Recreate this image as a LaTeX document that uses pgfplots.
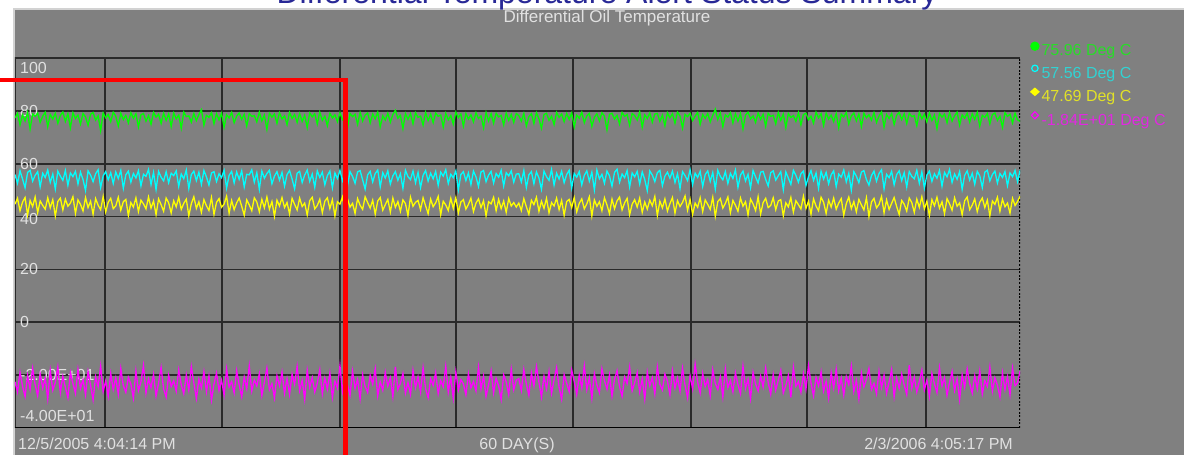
\documentclass[border=0pt]{standalone}
\usepackage{pgfplots}
\pgfplotsset{compat=1.18}
\usepackage{pgfplotstable}
\usepackage{fontspec}
\setmainfont{Liberation Sans}
\definecolor{panel}{RGB}{128,128,128}
\definecolor{gridc}{RGB}{42,42,42}
\definecolor{lbl}{RGB}{225,225,225}
\definecolor{sgreen}{RGB}{0,255,0}
\definecolor{scyan}{RGB}{0,255,255}
\definecolor{syellow}{RGB}{255,255,0}
\definecolor{smagenta}{RGB}{255,0,255}
\definecolor{tgreen}{RGB}{40,220,40}
\definecolor{tcyan}{RGB}{50,210,210}
\definecolor{tyellow}{RGB}{225,225,40}
\definecolor{tmagenta}{RGB}{225,40,225}
\definecolor{titleblue}{RGB}{40,40,150}

\pgfplotstableread[row sep=\\]{v\\
77.3\\79.1\\74.7\\78.5\\76.2\\79.4\\73.1\\78.8\\77.9\\79.2\\75.6\\78.0\\79.5\\74.0\\78.6\\76.9\\79.1\\75.3\\78.2\\79.6\\
76.0\\78.9\\73.6\\79.3\\77.1\\78.4\\75.0\\79.0\\77.7\\74.5\\78.7\\79.4\\76.5\\78.1\\72.5\\79.2\\77.4\\78.6\\75.9\\79.5\\
78.0\\74.2\\79.1\\76.7\\78.3\\75.4\\79.3\\77.2\\78.9\\73.9\\78.5\\79.0\\76.1\\78.2\\74.9\\79.4\\77.6\\78.7\\75.2\\79.1\\
76.4\\78.8\\74.1\\79.2\\77.0\\78.4\\73.4\\79.5\\77.8\\78.1\\75.7\\79.0\\76.3\\78.6\\80.4\\74.6\\78.3\\77.5\\79.3\\75.1\\
78.9\\76.6\\79.1\\73.8\\78.5\\77.3\\79.4\\75.5\\78.0\\79.2\\76.8\\78.7\\74.3\\79.0\\77.9\\78.2\\75.8\\79.5\\76.2\\78.4\\
73.0\\79.1\\77.6\\78.8\\75.3\\79.3\\76.9\\78.1\\74.8\\79.4\\77.1\\78.6\\75.6\\79.0\\76.0\\78.3\\73.7\\79.2\\77.7\\78.9\\
75.0\\79.5\\76.4\\78.0\\74.4\\79.1\\77.3\\78.5\\75.9\\79.3\\76.7\\78.2\\73.5\\79.0\\77.8\\78.7\\74.9\\79.4\\76.1\\78.4\\
79.2\\75.4\\78.8\\77.0\\79.5\\74.0\\78.1\\76.5\\79.1\\75.7\\78.6\\80.2\\77.2\\78.3\\73.3\\79.0\\76.8\\78.9\\75.1\\79.3\\
77.5\\78.0\\74.6\\79.4\\76.3\\78.7\\75.5\\79.2\\77.9\\78.4\\73.9\\79.1\\76.6\\78.2\\75.0\\79.5\\77.4\\78.8\\74.2\\79.0\\
76.9\\78.5\\75.8\\79.3\\77.1\\78.1\\73.6\\79.4\\76.2\\78.9\\75.3\\79.1\\77.7\\78.3\\74.7\\79.2\\76.4\\78.6\\75.6\\79.0\\
78.2\\76.1\\79.0\\74.3\\77.8\\78.9\\75.2\\79.3\\77.0\\73.4\\78.6\\79.1\\76.4\\78.0\\74.8\\79.4\\77.5\\78.8\\75.9\\79.0\\
76.8\\79.2\\73.9\\78.4\\77.2\\79.5\\75.5\\78.1\\79.0\\74.1\\77.6\\78.9\\76.2\\79.3\\78.0\\72.8\\78.7\\79.1\\76.9\\78.3\\
75.0\\79.4\\77.9\\78.6\\74.6\\79.0\\78.2\\76.5\\79.6\\73.8\\78.5\\77.1\\79.2\\75.7\\78.8\\79.0\\76.0\\78.4\\74.4\\79.3\\
77.4\\78.9\\75.3\\79.5\\78.1\\73.5\\78.7\\77.8\\79.1\\76.3\\78.0\\79.4\\74.9\\78.6\\77.2\\79.0\\75.8\\78.3\\80.6\\76.7\\
79.2\\74.0\\78.5\\77.6\\79.3\\75.4\\78.9\\76.1\\79.0\\73.2\\78.4\\79.5\\77.0\\78.1\\75.6\\79.2\\76.8\\78.7\\74.2\\79.1\\
77.9\\78.3\\75.1\\79.4\\76.4\\78.8\\73.7\\79.0\\77.5\\78.2\\76.0\\79.3\\74.7\\78.6\\79.1\\76.6\\78.0\\75.3\\79.5\\77.3\\
78.9\\74.5\\79.2\\76.9\\78.4\\75.9\\79.0\\73.6\\78.7\\77.7\\79.4\\75.0\\78.1\\79.2\\76.2\\78.8\\74.1\\79.1\\77.4\\78.5\\
76.5\\79.3\\75.6\\78.0\\79.6\\73.9\\78.6\\77.1\\79.0\\74.8\\78.3\\79.4\\76.7\\78.9\\75.2\\79.1\\77.8\\78.2\\74.4\\79.5\\
77.0\\78.7\\75.8\\79.2\\76.3\\78.4\\73.3\\79.0\\77.6\\78.8\\75.5\\79.3\\76.1\\78.1\\79.5\\74.6\\78.5\\77.2\\79.1\\75.7\\
78.9\\76.8\\79.4\\74.2\\78.3\\77.5\\79.0\\75.1\\78.6\\79.2\\76.4\\78.0\\73.8\\79.3\\77.9\\78.7\\75.4\\79.1\\76.6\\75.96\\
}\greendata

\pgfplotstableread[row sep=\\]{v\\
55.9\\52.6\\57.3\\54.2\\50.9\\56.7\\57.5\\53.4\\55.6\\57.0\\51.3\\56.4\\54.8\\57.6\\52.9\\56.1\\50.4\\57.2\\55.3\\53.7\\
57.4\\51.8\\56.5\\55.1\\57.1\\52.3\\56.8\\54.0\\49.9\\57.3\\55.7\\53.2\\56.2\\57.7\\51.0\\55.4\\57.0\\53.9\\56.6\\52.5\\
56.9\\54.4\\57.5\\50.7\\55.8\\57.2\\53.0\\56.3\\54.6\\57.4\\51.6\\56.0\\55.2\\57.8\\52.1\\56.7\\50.2\\57.1\\54.9\\53.5\\
57.0\\52.8\\56.4\\55.5\\57.3\\51.4\\56.1\\54.3\\57.6\\50.6\\55.9\\57.2\\53.6\\56.8\\52.2\\57.4\\55.0\\51.9\\56.5\\57.0\\
53.3\\56.2\\54.7\\57.5\\50.8\\55.6\\57.1\\52.7\\56.9\\54.1\\57.3\\51.2\\56.0\\55.8\\57.7\\53.0\\56.6\\50.3\\57.2\\54.5\\
56.3\\57.5\\52.4\\55.3\\57.0\\53.8\\56.7\\51.5\\55.9\\57.4\\54.2\\50.5\\56.4\\57.1\\52.9\\55.7\\57.6\\53.3\\56.1\\51.1\\
57.3\\54.8\\56.8\\52.0\\55.5\\57.2\\50.9\\56.5\\54.4\\57.5\\53.5\\56.0\\51.7\\57.0\\55.2\\52.6\\56.9\\57.4\\53.9\\50.4\\
55.8\\57.1\\53.1\\56.3\\57.6\\51.3\\56.6\\54.6\\57.3\\52.3\\55.4\\57.0\\53.7\\56.2\\50.7\\57.5\\55.1\\54.0\\57.2\\52.8\\
56.7\\51.0\\55.6\\57.4\\53.4\\56.4\\54.3\\57.1\\51.8\\56.8\\55.3\\57.7\\52.5\\56.0\\54.7\\57.3\\50.1\\55.9\\57.0\\53.6\\
56.5\\52.1\\57.2\\55.0\\51.4\\56.9\\57.4\\53.2\\55.7\\57.1\\52.7\\56.3\\54.9\\57.5\\51.6\\56.6\\55.4\\57.3\\53.0\\56.1\\
56.2\\53.1\\57.4\\51.0\\55.8\\57.0\\52.4\\56.9\\54.6\\50.3\\57.2\\55.1\\53.7\\57.8\\51.9\\56.4\\54.2\\57.1\\52.8\\55.9\\
57.5\\50.8\\56.3\\54.9\\57.0\\52.0\\55.6\\57.3\\53.4\\56.8\\50.1\\57.6\\54.3\\56.0\\52.6\\57.2\\55.4\\51.5\\56.7\\57.9\\
53.0\\56.1\\54.7\\57.4\\51.2\\56.5\\55.0\\57.1\\52.3\\56.9\\54.0\\49.8\\57.3\\55.7\\53.2\\56.6\\57.5\\51.7\\55.3\\56.8\\
54.5\\57.2\\52.9\\56.2\\50.6\\57.0\\55.5\\53.6\\57.7\\52.1\\56.4\\54.8\\57.1\\51.4\\55.9\\57.3\\53.3\\56.7\\50.4\\57.5\\
55.2\\53.9\\57.0\\52.5\\56.3\\54.4\\57.6\\51.1\\55.7\\57.2\\53.5\\56.0\\50.9\\57.4\\55.0\\52.7\\56.8\\57.1\\54.1\\51.6\\
56.6\\57.3\\53.8\\55.4\\57.0\\50.2\\56.9\\54.6\\52.2\\57.5\\55.6\\53.0\\56.2\\57.2\\51.8\\55.1\\57.4\\53.7\\56.5\\50.7\\
57.1\\54.2\\56.7\\52.4\\55.8\\57.3\\51.3\\56.1\\54.9\\57.6\\53.1\\56.4\\50.0\\57.0\\55.3\\52.8\\56.8\\57.4\\54.0\\51.9\\
55.5\\57.2\\53.4\\56.3\\57.7\\50.5\\56.0\\54.7\\57.1\\52.0\\55.9\\57.3\\53.6\\56.6\\51.2\\57.0\\55.2\\54.3\\57.5\\52.6\\
56.9\\50.8\\55.7\\57.2\\53.3\\56.2\\54.5\\57.4\\51.5\\56.7\\55.0\\57.8\\52.9\\56.1\\54.1\\57.0\\50.3\\55.6\\57.3\\53.8\\
56.4\\52.2\\57.1\\55.4\\51.0\\56.8\\57.5\\53.5\\55.9\\57.2\\52.7\\56.3\\54.8\\57.0\\51.7\\56.5\\55.1\\57.4\\53.2\\57.56\\
}\cyandata

\pgfplotstableread[row sep=\\]{v\\
44.7\\46.9\\42.2\\45.5\\47.2\\40.6\\46.1\\43.8\\47.4\\41.5\\45.9\\44.2\\42.8\\47.1\\43.3\\46.4\\40.2\\45.7\\47.0\\42.5\\
46.6\\43.9\\45.1\\47.5\\41.2\\46.3\\44.6\\42.1\\47.2\\43.4\\45.8\\40.9\\46.8\\44.3\\42.6\\47.6\\41.7\\45.4\\46.9\\43.0\\
44.0\\47.3\\42.4\\45.6\\46.5\\40.4\\45.3\\43.6\\47.1\\41.9\\46.2\\44.8\\42.9\\47.4\\43.2\\45.9\\40.7\\46.7\\44.5\\42.0\\
47.0\\45.2\\41.4\\46.0\\43.7\\47.3\\42.7\\45.0\\46.6\\40.3\\44.9\\47.5\\43.1\\45.6\\41.6\\46.4\\44.1\\42.3\\47.2\\40.8\\
45.4\\46.8\\43.5\\44.7\\47.7\\41.3\\46.1\\42.6\\45.2\\47.0\\43.9\\40.5\\46.3\\44.4\\42.2\\47.1\\45.5\\41.8\\46.5\\43.3\\
47.4\\42.8\\45.7\\40.1\\46.2\\44.0\\47.2\\43.4\\45.3\\41.0\\46.9\\44.6\\42.5\\47.0\\43.8\\45.1\\40.6\\46.0\\47.3\\42.9\\
44.2\\46.6\\41.5\\45.8\\47.1\\43.0\\46.4\\40.2\\45.6\\44.7\\47.4\\42.1\\46.7\\43.6\\45.0\\41.2\\46.8\\44.3\\42.7\\47.5\\
45.3\\43.2\\46.2\\40.9\\45.9\\47.2\\42.4\\44.5\\46.5\\41.7\\47.0\\43.5\\45.7\\42.0\\46.3\\44.9\\40.4\\47.3\\43.9\\45.4\\
46.1\\42.6\\47.1\\44.1\\41.1\\46.6\\43.7\\45.2\\47.6\\40.7\\45.8\\44.4\\42.3\\46.9\\43.1\\47.2\\41.4\\45.5\\46.4\\42.8\\
44.6\\47.0\\41.9\\45.1\\46.7\\43.4\\46.0\\40.3\\45.6\\44.8\\47.3\\42.2\\46.5\\43.0\\45.9\\41.6\\46.8\\44.0\\45.3\\43.6\\
45.1\\42.3\\46.8\\43.7\\40.9\\46.2\\44.5\\47.3\\42.0\\45.8\\43.1\\46.9\\41.4\\45.3\\44.0\\47.0\\42.6\\46.1\\40.5\\45.7\\
46.5\\43.4\\47.2\\41.8\\45.0\\46.7\\42.9\\44.8\\47.5\\40.2\\46.3\\43.9\\45.6\\42.2\\47.1\\44.4\\41.1\\46.6\\43.0\\45.9\\
47.4\\42.5\\45.2\\46.9\\40.7\\44.7\\46.4\\43.6\\47.0\\41.6\\45.5\\42.8\\46.2\\44.1\\47.6\\40.4\\45.8\\43.3\\46.7\\42.1\\
44.9\\47.2\\41.3\\46.0\\43.8\\45.4\\47.8\\42.4\\46.5\\40.8\\45.1\\43.5\\47.1\\41.9\\46.3\\44.6\\42.7\\47.3\\40.1\\45.7\\
46.8\\43.2\\45.0\\47.4\\41.5\\46.1\\44.3\\42.0\\47.0\\43.9\\45.6\\40.6\\46.6\\44.8\\42.3\\47.5\\41.0\\45.3\\46.9\\43.4\\
44.2\\47.1\\42.6\\45.9\\46.4\\40.3\\45.2\\43.7\\47.2\\41.7\\46.0\\44.5\\42.9\\47.7\\43.1\\45.8\\40.9\\46.7\\44.0\\42.2\\
47.3\\45.4\\41.2\\46.2\\43.6\\47.0\\42.8\\45.1\\46.8\\40.5\\44.9\\47.4\\43.0\\45.7\\41.8\\46.5\\44.4\\42.5\\47.1\\40.0\\
45.5\\46.9\\43.3\\44.6\\47.6\\41.4\\46.3\\42.7\\45.0\\47.2\\43.8\\40.8\\46.1\\44.7\\42.1\\47.0\\45.3\\41.6\\46.6\\43.5\\
47.5\\42.9\\45.8\\40.4\\46.4\\44.1\\47.3\\43.2\\45.6\\41.1\\46.8\\44.8\\42.4\\47.1\\43.9\\45.2\\40.7\\46.0\\47.4\\42.6\\
44.3\\46.7\\41.9\\45.4\\47.0\\43.4\\46.2\\40.3\\45.9\\44.6\\47.3\\42.0\\46.5\\43.7\\45.1\\41.3\\46.9\\44.2\\45.7\\47.69\\
}\yellowdata

\pgfplotstableread[row sep=\\]{v\\
-22.5\\-26.4\\-18.9\\-24.2\\-28.1\\-20.1\\-25.3\\-17.4\\-23.6\\-27.8\\-19.5\\-24.9\\-21.2\\-29.0\\-18.2\\-25.7\\-22.8\\-16.9\\-26.6\\-20.4\\
-24.6\\-28.5\\-19.0\\-23.1\\-26.9\\-17.8\\-25.0\\-21.7\\-27.4\\-18.6\\-23.9\\-29.3\\-20.6\\-24.4\\-16.6\\-26.2\\-22.2\\-28.0\\-19.3\\-25.4\\
-21.0\\-27.2\\-17.5\\-24.0\\-26.5\\-20.8\\-23.4\\-28.7\\-18.4\\-25.9\\-22.6\\-16.3\\-26.8\\-21.4\\-24.7\\-19.7\\-27.9\\-23.0\\-17.1\\-25.2\\
-28.3\\-20.0\\-24.3\\-22.1\\-26.1\\-18.0\\-23.7\\-27.0\\-19.9\\-25.6\\-16.8\\-22.9\\-28.8\\-21.5\\-24.8\\-18.7\\-26.3\\-20.3\\-29.4\\-23.3\\
-19.2\\-25.8\\-21.9\\-27.5\\-17.7\\-24.5\\-22.4\\-26.7\\-18.3\\-23.8\\-28.2\\-20.7\\-25.1\\-16.5\\-26.0\\-21.8\\-24.1\\-19.4\\-27.7\\-22.7\\
-17.3\\-25.5\\-23.2\\-28.6\\-20.2\\-24.0\\-18.8\\-26.9\\-21.3\\-27.3\\-19.6\\-23.5\\-16.7\\-25.9\\-22.0\\-29.1\\-18.1\\-24.6\\-20.9\\-26.4\\
-23.0\\-17.9\\-27.1\\-21.1\\-25.3\\-19.1\\-28.4\\-22.3\\-24.9\\-16.4\\-26.1\\-20.5\\-23.7\\-27.6\\-18.5\\-25.0\\-21.6\\-28.9\\-19.8\\-24.3\\
-26.6\\-20.0\\-23.4\\-17.6\\-27.8\\-22.5\\-25.7\\-18.9\\-24.2\\-21.0\\-28.1\\-16.9\\-25.4\\-23.1\\-19.3\\-26.8\\-22.8\\-27.2\\-18.2\\-24.7\\
-20.6\\-26.3\\-17.2\\-25.1\\-28.5\\-21.4\\-23.9\\-19.0\\-27.0\\-22.1\\-24.4\\-16.6\\-26.5\\-20.8\\-28.7\\-18.7\\-25.6\\-21.7\\-23.3\\-27.4\\
-19.5\\-24.8\\-22.4\\-26.0\\-17.0\\-25.2\\-20.3\\-28.0\\-23.6\\-18.4\\-26.7\\-21.2\\-24.1\\-29.2\\-19.9\\-22.6\\-27.3\\-17.8\\-25.5\\-21.9\\
-21.3\\-25.8\\-17.9\\-23.4\\-27.6\\-19.2\\-24.1\\-16.8\\-22.7\\-28.3\\-20.4\\-25.1\\-18.6\\-26.9\\-21.8\\-17.2\\-24.6\\-29.1\\-19.8\\-23.0\\
-26.2\\-18.1\\-22.4\\-27.3\\-20.0\\-24.8\\-16.5\\-25.5\\-21.1\\-28.7\\-19.4\\-23.7\\-26.6\\-17.6\\-22.1\\-25.3\\-19.9\\-27.9\\-21.6\\-18.3\\
-24.4\\-28.0\\-20.7\\-23.2\\-17.0\\-25.9\\-22.9\\-19.0\\-26.4\\-21.4\\-29.0\\-18.8\\-24.0\\-20.9\\-27.1\\-16.9\\-23.5\\-25.6\\-19.6\\-22.2\\
-27.4\\-18.4\\-24.9\\-21.0\\-26.1\\-17.4\\-23.8\\-28.5\\-20.2\\-25.2\\-15.8\\-22.6\\-26.8\\-19.3\\-24.3\\-21.7\\-27.7\\-18.0\\-23.1\\-25.4\\
-20.6\\-28.2\\-17.7\\-24.7\\-22.0\\-26.3\\-19.1\\-23.6\\-27.0\\-16.6\\-25.0\\-21.5\\-28.8\\-18.9\\-23.3\\-26.0\\-20.3\\-24.5\\-17.3\\-22.8\\
-27.2\\-19.7\\-25.7\\-21.9\\-18.2\\-26.7\\-23.9\\-20.1\\-28.4\\-17.1\\-24.2\\-22.5\\-26.5\\-19.5\\-25.3\\-16.4\\-23.0\\-27.8\\-20.8\\-24.0\\
-18.7\\-26.0\\-22.3\\-28.6\\-19.0\\-24.8\\-17.8\\-25.9\\-21.2\\-27.5\\-20.5\\-23.6\\-16.7\\-26.2\\-22.0\\-28.9\\-19.2\\-24.4\\-21.6\\-17.5\\
-25.4\\-23.1\\-27.0\\-18.5\\-24.7\\-20.0\\-26.9\\-22.6\\-17.9\\-28.1\\-21.1\\-25.0\\-19.6\\-23.7\\-27.3\\-16.2\\-24.9\\-20.7\\-26.4\\-22.4\\
-18.1\\-25.6\\-21.8\\-28.0\\-19.4\\-23.3\\-26.6\\-17.2\\-24.1\\-20.9\\-27.6\\-22.7\\-18.6\\-25.8\\-21.4\\-29.2\\-19.8\\-24.6\\-17.6\\-23.2\\
-26.8\\-20.2\\-25.1\\-18.3\\-27.1\\-22.1\\-24.3\\-16.9\\-26.1\\-21.0\\-23.8\\-28.3\\-19.1\\-25.5\\-20.6\\-27.4\\-17.4\\-24.0\\-22.9\\-18.4\\
}\magentadata

\begin{document}
\begin{tikzpicture}[x=1pt,y=1pt]
\begin{scope}
\clip (0,0) rectangle (1184,455);
\fill[white] (0,0) rectangle (1184,455);
% outer panel
\fill[panel] (14,0) rectangle (1184,446);
\draw[gray!35!white, line width=1.2pt] (14,0) -- (14,446) -- (1184,446);
% cut-off main title
\node[anchor=base, text=titleblue, font=\fontsize{32}{34}\selectfont, inner sep=0pt] at (607,451) {Differential Temperature Alert Status Summary};
% chart title
\node[anchor=base, text=lbl, font=\fontsize{17}{19}\selectfont, inner sep=0pt] at (607,432) {Differential Oil Temperature};

\begin{axis}[
  at={(15pt,27pt)}, anchor=south west,
  width=1005pt, height=370pt, scale only axis,
  xmin=0, xmax=1005, ymin=-40, ymax=100,
  xtick={90,207,325,441,558,676,792,911},
  ytick={-20,0,20,40,60,80},
  xticklabels={}, yticklabels={},
  major tick length=0pt,
  grid=major,
  grid style={line width=1.8pt, color=gridc},
  axis line style={draw=none},
  clip=true,
  legend style={at={(axis description cs:1.010,1.045)}, anchor=north west,
    draw=none, fill=none, inner sep=0pt, row sep=6pt,
    font=\fontsize{16}{18}\selectfont,
    /tikz/every even column/.append style={column sep=3pt}},
  legend cell align=left,
]
% plot frame
\draw[gridc, line width=2pt] (rel axis cs:0,0) -- (rel axis cs:0,1) -- (rel axis cs:1,1);
\draw[black, line width=2pt] (rel axis cs:0,0) -- (rel axis cs:1,0);
\draw[black, line width=2.2pt, dash pattern=on 2pt off 1.6pt] (rel axis cs:1,0) -- (rel axis cs:1,1);
% y labels (set inside the plot area)
\begin{scope}[every node/.style={text=lbl, font=\fontsize{16}{18}\selectfont, inner sep=0pt}]
\node[anchor=north west] at (axis cs:5,98.5) {100};
\node[anchor=west] at (axis cs:5,80) {80};
\node[anchor=west] at (axis cs:5,60) {60};
\node[anchor=west] at (axis cs:5,39) {40};
\node[anchor=west] at (axis cs:5,20) {20};
\node[anchor=west] at (axis cs:5,0) {0};
\node[anchor=west] at (axis cs:5,-20) {-2.00E+01};
\node[anchor=base west] at (axis cs:5,-37.7) {-4.00E+01};
\end{scope}

\addplot[sgreen, line width=1.3pt,
  legend image code/.code={\fill[sgreen] (0pt,4pt) circle (4pt);}]
  table[x expr=\coordindex*2.519, y=v] {\greendata};
\addlegendentry{\textcolor{tgreen}{75.96 Deg C}}
\addplot[scyan, line width=1.3pt,
  legend image code/.code={\draw[scyan, line width=1.2pt] (0pt,5pt) circle (3.2pt);}]
  table[x expr=\coordindex*2.519, y=v] {\cyandata};
\addlegendentry{\textcolor{tcyan}{57.56 Deg C}}
\addplot[syellow, line width=1.3pt,
  legend image code/.code={\fill[syellow] (-4pt,5pt) -- (0pt,8.5pt) -- (4pt,5pt) -- (0pt,1.5pt) -- cycle;}]
  table[x expr=\coordindex*2.519, y=v] {\yellowdata};
\addlegendentry{\textcolor{tyellow}{47.69 Deg C}}
\addplot[smagenta, line width=1.3pt,
  legend image code/.code={\draw[smagenta, line width=1.2pt] (-3.5pt,5pt) -- (0pt,8.5pt) -- (3.5pt,5pt) -- (0pt,1.5pt) -- cycle;}]
  table[x expr=\coordindex*2.519, y=v] {\magentadata};
\addlegendentry{\textcolor{tmagenta}{-1.84E+01 Deg C}}
\end{axis}

% x-axis labels
\begin{scope}[every node/.style={text=lbl, font=\fontsize{16}{18}\selectfont, inner sep=0pt}]
\node[anchor=base west] at (18,5) {12/5/2005 4:04:14 PM};
\node[anchor=base] at (517,5) {60 DAY(S)};
\node[anchor=base east] at (1013,5) {2/3/2006 4:05:17 PM};
\end{scope}

% red annotation overlay
\draw[red, line width=4.5pt] (0,375) -- (345.5,375) -- (345.5,-3);
\end{scope}
\pgfresetboundingbox
\useasboundingbox (0,0) rectangle (1184,455);
\end{tikzpicture}
\end{document}
